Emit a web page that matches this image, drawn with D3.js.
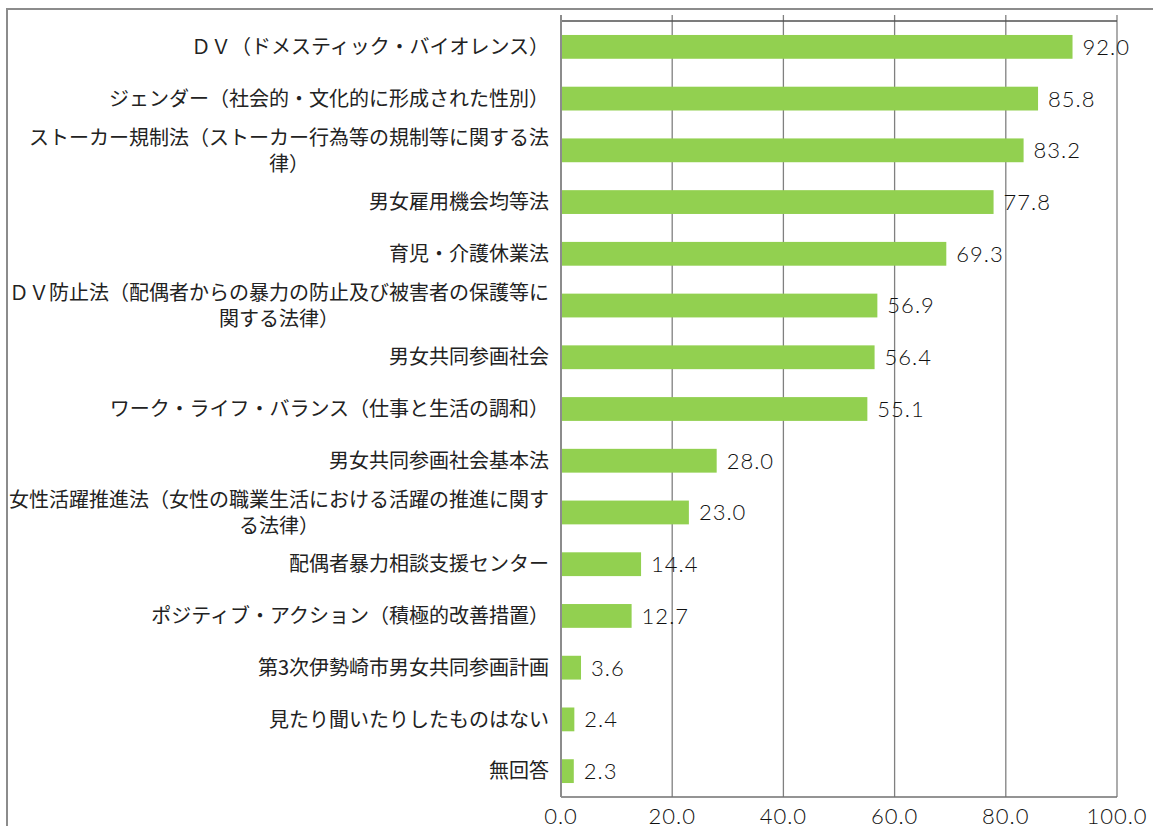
<!DOCTYPE html>
<html>
  <head>
    <meta charset="utf-8" />
    <script src="https://d3js.org/d3.v7.min.js"></script>
    <title>認知度</title>
    <style>
        body { margin: 0; background: #fff; }
        .cat { font-family: "Noto Sans CJK JP", "Noto Sans", sans-serif; font-size: 20px; fill: #222; }
        .num { font-family: Lato, "Noto Sans", sans-serif; font-weight: 300; font-size: 22px; letter-spacing: 1px; fill: #111; }
    </style>
  </head>
  <body>

    <svg id="chart"></svg>

    <script>
    // categories (line breaks as in the original)
    var categories = [
        ["ＤＶ（ドメスティック・バイオレンス）"],
        ["ジェンダー（社会的・文化的に形成された性別）"],
        ["ストーカー規制法（ストーカー行為等の規制等に関する法", "律）"],
        ["男女雇用機会均等法"],
        ["育児・介護休業法"],
        ["ＤＶ防止法（配偶者からの暴力の防止及び被害者の保護等に", "関する法律）"],
        ["男女共同参画社会"],
        ["ワーク・ライフ・バランス（仕事と生活の調和）"],
        ["男女共同参画社会基本法"],
        ["女性活躍推進法（女性の職業生活における活躍の推進に関す", "る法律）"],
        ["配偶者暴力相談支援センター"],
        ["ポジティブ・アクション（積極的改善措置）"],
        ["第3次伊勢崎市男女共同参画計画"],
        ["見たり聞いたりしたものはない"],
        ["無回答"]
    ];
    var values = [92.0, 85.8, 83.2, 77.8, 69.3, 56.9, 56.4, 55.1, 28.0, 23.0, 14.4, 12.7, 3.6, 2.4, 2.3];
    var tickValues = [0, 20, 40, 60, 80, 100];

    var W = 1153, H = 826;
    var plotL = 561, plotR = 1117, plotT = 21, plotB = 797;

    var svg = d3.select("#chart").attr("width", W).attr("height", H);

    // outer frame (runs off right / bottom)
    svg.append("path")
        .attr("d", "M7," + H + "V9H" + W)
        .attr("fill", "none").attr("stroke", "#8c8c8c").attr("stroke-width", 2);

    var x = d3.scaleLinear().domain([0, 100]).range([plotL, plotR]);
    var y = d3.scaleBand().domain(d3.range(categories.length)).range([plotT, plotB]).paddingInner(0.54).paddingOuter(0.27);

    // gridlines
    svg.append("g").selectAll("line")
        .data(tickValues)
        .enter().append("line")
        .attr("x1", function(d){ return x(d); })
        .attr("x2", function(d){ return x(d); })
        .attr("y1", plotT - 6)
        .attr("y2", plotB)
        .attr("stroke", "#808080").attr("stroke-width", 1.3);

    // plot border
    svg.append("line").attr("x1", plotL).attr("x2", plotR).attr("y1", plotT).attr("y2", plotT)
        .attr("stroke", "#505050").attr("stroke-width", 1.5);
    svg.append("line").attr("x1", plotL).attr("x2", plotR).attr("y1", plotB).attr("y2", plotB)
        .attr("stroke", "#707070").attr("stroke-width", 1.5);
    svg.append("line").attr("x1", plotL).attr("x2", plotL).attr("y1", plotT - 6).attr("y2", plotB)
        .attr("stroke", "#8c8c8c").attr("stroke-width", 2);

    // bars
    svg.append("g").selectAll("rect")
        .data(values)
        .enter().append("rect")
        .attr("x", x(0) + 1)
        .attr("y", function(d, i){ return y(i); })
        .attr("width", function(d){ return x(d) - x(0) - 1; })
        .attr("height", y.bandwidth())
        .attr("fill", "#92d050");

    // value labels
    svg.append("g").selectAll("text")
        .data(values)
        .enter().append("text")
        .attr("class", "num")
        .attr("x", function(d){ return x(d) + 10; })
        .attr("y", function(d, i){ return y(i) + y.bandwidth() / 2; })
        .attr("dy", "0.36em")
        .text(function(d){ return d.toFixed(1); });

    // category labels
    var labelRight = 549, lineH = 26;
    var cat = svg.append("g").selectAll("text")
        .data(categories)
        .enter().append("text")
        .attr("class", "cat")
        .attr("text-anchor", "middle");

    cat.each(function(lines, i){
        var t = d3.select(this);
        var cy = y(i) + y.bandwidth() / 2;
        var first = t.append("tspan").text(lines[0]);
        var w = first.node().getComputedTextLength();
        var cx = labelRight - w / 2;
        var y0 = cy - (lines.length - 1) * lineH / 2;
        t.selectAll("tspan").remove();
        lines.forEach(function(s, k){
            t.append("tspan")
                .attr("x", cx)
                .attr("y", y0 + k * lineH)
                .attr("dy", "0.36em")
                .text(s);
        });
    });

    // x tick labels
    svg.append("g").selectAll("text")
        .data(tickValues)
        .enter().append("text")
        .attr("class", "num")
        .attr("text-anchor", "middle")
        .attr("x", function(d){ return x(d); })
        .attr("y", 824)
        .text(function(d){ return d.toFixed(1); });
    </script>

  </body>
</html>
